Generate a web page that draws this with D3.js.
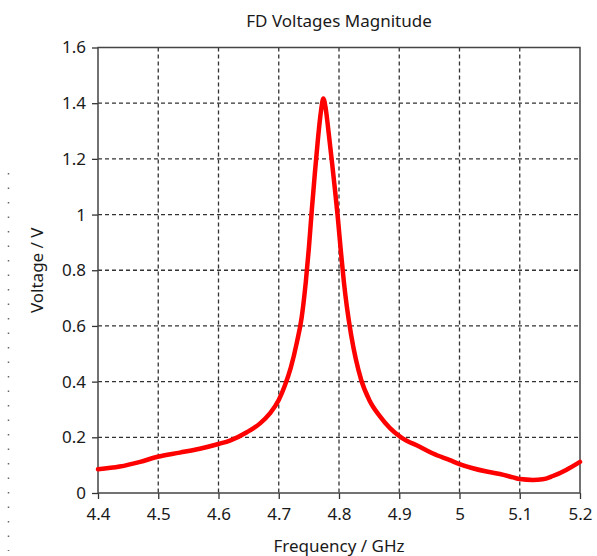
<!DOCTYPE html>
<html>
<head>
<meta charset="utf-8">
<script src="https://cdn.jsdelivr.net/npm/d3@7"></script>
<style>
  body { margin: 0; background: #fff; }
  svg { display: block; }
  text { font-family: "Noto Sans", sans-serif; fill: #1a1a1a; }
</style>
</head>
<body>
<svg class="chart" width="597" height="556"></svg>
<script>
// values
var freqGHz = [
  4.400, 4.436, 4.470, 4.499, 4.536, 4.569, 4.600, 4.619, 4.647, 4.669,
  4.685, 4.700, 4.710, 4.720, 4.730, 4.738, 4.745, 4.750, 4.755, 4.760,
  4.765, 4.770, 4.774, 4.778, 4.783, 4.788, 4.793, 4.798, 4.803, 4.808,
  4.813, 4.820, 4.828, 4.837, 4.850, 4.868, 4.885, 4.903, 4.934, 4.956,
  4.984, 5.000, 5.022, 5.045, 5.067, 5.089, 5.100, 5.122, 5.138, 5.155,
  5.177, 5.200
];
var voltage = [
  0.085, 0.095, 0.112, 0.130, 0.145, 0.159, 0.176, 0.188, 0.218, 0.250,
  0.285, 0.334, 0.385, 0.450, 0.540, 0.630, 0.760, 0.880, 1.020, 1.150,
  1.270, 1.370, 1.417, 1.380, 1.290, 1.195, 1.095, 0.990, 0.870, 0.760,
  0.670, 0.570, 0.480, 0.405, 0.335, 0.275, 0.232, 0.200, 0.166, 0.142,
  0.118, 0.104, 0.089, 0.077, 0.068, 0.056, 0.050, 0.047, 0.049, 0.061,
  0.083, 0.112
];
var xTicks = [4.4, 4.5, 4.6, 4.7, 4.8, 4.9, 5.0, 5.1, 5.2];
var yTicks = [0, 0.2, 0.4, 0.6, 0.8, 1.0, 1.2, 1.4, 1.6];

var svg = d3.select("svg.chart");
var margin = { top: 47.5, right: 17, bottom: 63, left: 98 };
var width = +svg.attr("width") - margin.left - margin.right;
var height = +svg.attr("height") - margin.top - margin.bottom;

var x = d3.scaleLinear().domain([4.4, 5.2]).range([0, width]);
var y = d3.scaleLinear().domain([0, 1.6]).range([height, 0]);

// stray dotted column at the far left of the reference
svg.append("line")
  .attr("x1", 8.5).attr("x2", 8.5)
  .attr("y1", 173).attr("y2", 551)
  .attr("stroke", "#666")
  .attr("stroke-width", 1.5)
  .attr("stroke-dasharray", "1.5,13");

var g = svg.append("g")
  .attr("transform", "translate(" + margin.left + "," + margin.top + ")");

// dashed grid
g.append("g")
  .selectAll("line")
  .data(xTicks.slice(1, -1))
  .enter()
  .append("line")
  .attr("x1", function(d) { return x(d); })
  .attr("x2", function(d) { return x(d); })
  .attr("y1", 0)
  .attr("y2", height)
  .attr("stroke", "#333")
  .attr("stroke-width", 1.3)
  .attr("stroke-dasharray", "4,3");

g.append("g")
  .selectAll("line")
  .data(yTicks.slice(1, -1))
  .enter()
  .append("line")
  .attr("x1", 0)
  .attr("x2", width)
  .attr("y1", function(d) { return y(d); })
  .attr("y2", function(d) { return y(d); })
  .attr("stroke", "#333")
  .attr("stroke-width", 1.3)
  .attr("stroke-dasharray", "4,3");

// axes
var xAxis = g.append("g")
  .attr("transform", "translate(0," + height + ")")
  .call(
    d3.axisBottom(x)
      .tickValues(xTicks)
      .tickSize(6)
      .tickPadding(9)
      .tickFormat(d3.format("~g"))
  );

var yAxis = g.append("g")
  .call(
    d3.axisLeft(y)
      .tickValues(yTicks)
      .tickSize(6)
      .tickPadding(6)
      .tickFormat(d3.format("~g"))
  );

[xAxis, yAxis].forEach(function(axis) {
  axis.select(".domain").remove();
  axis.selectAll(".tick line").attr("stroke", "#333").attr("stroke-width", 1.3);
  axis.selectAll(".tick text")
    .style("font-family", "'Noto Sans', sans-serif")
    .style("font-size", "17px")
    .attr("fill", "#1a1a1a");
});

// frame
g.append("rect")
  .attr("x", 0)
  .attr("y", 0)
  .attr("width", width)
  .attr("height", height)
  .attr("fill", "none")
  .attr("stroke", "#444")
  .attr("stroke-width", 1.5);

// curve
var line = d3.line()
  .x(function(d, i) { return x(freqGHz[i]); })
  .y(function(d) { return y(d); })
  .curve(d3.curveMonotoneX);

g.append("path")
  .datum(voltage)
  .attr("d", line)
  .attr("fill", "none")
  .attr("stroke", "#ff0000")
  .attr("stroke-width", 4.5)
  .attr("stroke-linejoin", "round")
  .attr("stroke-linecap", "round");

// titles
svg.append("text")
  .attr("x", margin.left + width / 2)
  .attr("y", 27)
  .attr("text-anchor", "middle")
  .style("font-size", "17px")
  .text("FD Voltages Magnitude");

svg.append("text")
  .attr("x", margin.left + width / 2)
  .attr("y", 552)
  .attr("text-anchor", "middle")
  .style("font-size", "17px")
  .text("Frequency / GHz");

svg.append("text")
  .attr("transform", "translate(43," + (margin.top + height / 2) + ") rotate(-90)")
  .attr("text-anchor", "middle")
  .style("font-size", "17px")
  .text("Voltage / V");
</script>
</body>
</html>
